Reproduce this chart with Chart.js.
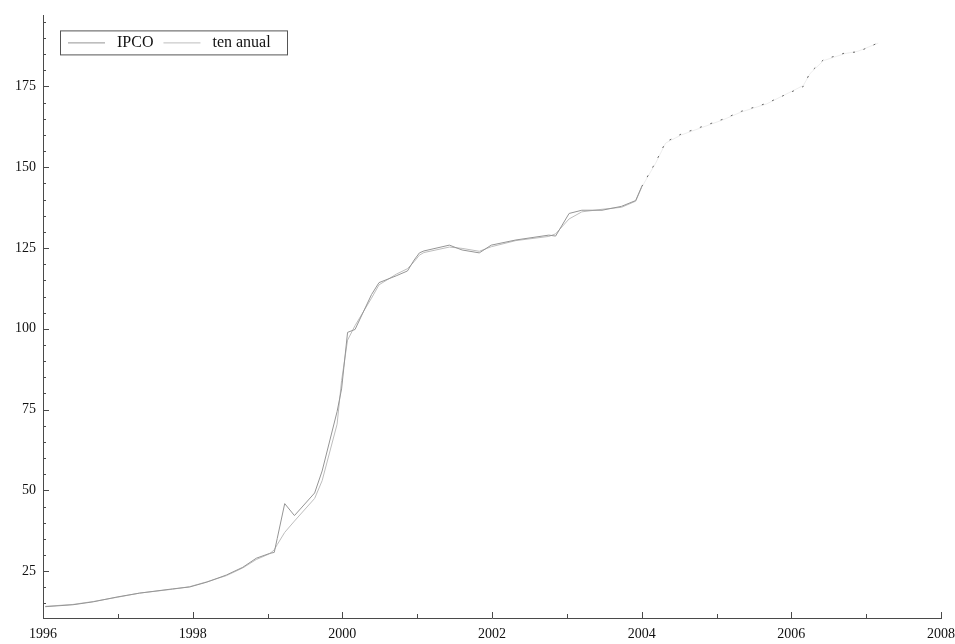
<!DOCTYPE html>
<html>
<head>
<meta charset="utf-8">
<script src="https://cdn.jsdelivr.net/npm/chart.js@4.4.1/dist/chart.umd.min.js"></script>
<style>
  html, body { margin: 0; padding: 0; background: #ffffff; }
  #wrap { width: 955px; height: 644px; position: relative; }
</style>
</head>
<body>
<div id="wrap"><canvas id="c" width="955" height="644"></canvas></div>
<script>
// ---- data ----
const dates = [
  1996.03, 1996.40, 1996.67, 1996.99, 1997.29, 1997.73, 1997.96, 1998.19, 1998.45, 1998.67,
  1998.85, 1999.03, 1999.09, 1999.13, 1999.23, 1999.36, 1999.63, 1999.73, 1999.93, 1999.99,
  2000.07, 2000.17, 2000.39, 2000.49, 2000.72, 2000.87, 2000.96, 2001.03, 2001.09, 2001.43,
  2001.60, 2001.83, 2001.99, 2002.32, 2002.76, 2002.85, 2003.03, 2003.20, 2003.47, 2003.73,
  2003.92, 2004.00, 2004.19, 2004.32, 2004.53, 2005.09, 2005.33, 2005.67, 2006.16, 2006.25,
  2006.43, 2006.72, 2006.89, 2007.16
];
const ipco = [
  14.0, 14.6, 15.5, 17.0, 18.2, 19.5, 20.1, 21.6, 23.8, 26.2,
  29.0, 30.5, 30.8, 35.1, 45.9, 42.2, 49.2, 56.0, 74.4, 81.4,
  98.9, 99.8, 110.6, 114.3, 116.4, 117.9, 121.3, 123.5, 124.1, 125.9,
  124.4, 123.5, 125.9, 127.5, 129.0, 128.7, 135.7, 136.7, 136.7, 137.9,
  139.7, 144.0, 151.7, 157.8, 160.3, 164.9, 167.3, 169.8, 175.0, 179.3,
  183.3, 185.4, 185.7, 188.5
];
const tenAnual = [
  14.1, 14.7, 15.6, 16.9, 18.2, 19.4, 20.2, 21.7, 23.6, 26.0,
  28.6, 30.4, 31.6, 33.2, 37.0, 40.5, 47.5, 53.0, 70.5, 84.0,
  96.5, 101.0, 109.5, 113.6, 116.9, 118.6, 120.8, 122.8, 123.6, 125.3,
  124.9, 124.0, 125.4, 127.3, 128.6, 129.4, 134.0, 136.2, 137.0, 137.6,
  139.5, 143.8, 151.4, 157.5, 160.0, 164.7, 167.1, 169.6, 175.3, 179.0,
  183.0, 185.2, 185.9, 188.4
];
const seriesNames = ['IPCO', 'ten anual'];
const xTickYears = [1996, 1998, 2000, 2002, 2004, 2006, 2008];
const yTickValues = [25, 50, 75, 100, 125, 150, 175];

// ---- styling ----
const FONT = '"Liberation Serif", "DejaVu Serif", serif';
const AXIS_COLOR = '#4a4a4a';
const TEXT_COLOR = '#111111';
const COLORS = ['#959595', '#bdbdbd'];

const toPoints = (vals) => dates.map((d, i) => ({ x: d, y: vals[i] }));

// inward tick marks drawn through the scales
const innerTicks = {
  id: 'innerTicks',
  afterDraw(chart) {
    const { ctx, scales } = chart;
    const xs = scales.x, ys = scales.y;
    ctx.save();
    ctx.strokeStyle = AXIS_COLOR;
    ctx.lineWidth = 1;
    ctx.beginPath();
    for (let yr = Math.ceil(xs.min); yr <= xs.max; yr++) {
      const px = Math.round(xs.getPixelForValue(yr)) + 0.5;
      const len = xTickYears.includes(yr) ? 6 : 4;
      ctx.moveTo(px, ys.bottom);
      ctx.lineTo(px, ys.bottom - len);
    }
    for (let v = 15; v <= ys.max; v += 5) {
      const py = Math.round(ys.getPixelForValue(v)) + 0.5;
      const len = yTickValues.includes(v) ? 6 : 3;
      ctx.moveTo(xs.left, py);
      ctx.lineTo(xs.left + len, py);
    }
    ctx.stroke();
    ctx.restore();
  }
};

// boxed legend inside the plot area
const boxLegend = {
  id: 'boxLegend',
  afterDraw(chart) {
    const { ctx, chartArea } = chart;
    const x0 = chartArea.left + 17, y0 = chartArea.top + 15;
    const w = 227, h = 24;
    ctx.save();
    ctx.fillStyle = '#ffffff';
    ctx.fillRect(x0, y0, w, h);
    ctx.strokeStyle = '#555555';
    ctx.lineWidth = 1;
    ctx.strokeRect(x0 + 0.5, y0 + 0.5, w, h);
    ctx.font = '16px ' + FONT;
    ctx.textBaseline = 'middle';
    ctx.fillStyle = TEXT_COLOR;
    let cx = x0 + 8;
    const cy = y0 + h / 2 + 0.5;
    chart.data.datasets.forEach((ds, i) => {
      ctx.strokeStyle = COLORS[i];
      ctx.beginPath();
      ctx.moveTo(cx, cy);
      ctx.lineTo(cx + 37, cy);
      ctx.stroke();
      cx += 49;
      ctx.fillText(ds.label, cx, cy);
      cx += ctx.measureText(ds.label).width + 10;
    });
    ctx.restore();
  }
};

const after2004 = (c) => c.p0.parsed.x >= 2004;

new Chart(document.getElementById('c'), {
  type: 'line',
  data: {
    datasets: [
      {
        label: seriesNames[0],
        data: toPoints(ipco),
        borderColor: COLORS[0],
        borderWidth: 1,
        pointRadius: 0,
        tension: 0,
        segment: {
          borderDash: (c) => after2004(c) ? [2, 9] : undefined,
          borderColor: (c) => after2004(c) ? '#666666' : undefined
        }
      },
      {
        label: seriesNames[1],
        data: toPoints(tenAnual),
        borderColor: COLORS[1],
        borderWidth: 1,
        pointRadius: 0,
        tension: 0,
        segment: {
          borderColor: (c) => after2004(c) ? 'rgba(200,200,200,0.3)' : undefined
        }
      }
    ]
  },
  options: {
    responsive: false,
    animation: false,
    events: [],
    layout: { padding: { top: 6, right: 0, bottom: 0, left: 0 } },
    plugins: {
      legend: { display: false },
      tooltip: { enabled: false }
    },
    scales: {
      x: {
        type: 'linear',
        min: 1996,
        max: 2008,
        afterBuildTicks: (s) => { s.ticks = xTickYears.map(v => ({ value: v })); },
        afterFit: (s) => { s.height = 26; s.paddingRight = 14; s.paddingLeft = 0; },
        grid: { display: true, drawOnChartArea: false, drawTicks: false },
        border: { display: true, color: AXIS_COLOR, width: 1 },
        ticks: {
          padding: 8,
          maxRotation: 0,
          autoSkip: false,
          color: TEXT_COLOR,
          font: { family: FONT, size: 14 },
          callback: (v) => String(v)
        }
      },
      y: {
        type: 'linear',
        min: 10.5,
        max: 197,
        afterBuildTicks: (s) => { s.ticks = yTickValues.map(v => ({ value: v })); },
        afterFit: (s) => { s.width = 43; },
        grid: { display: true, drawOnChartArea: false, drawTicks: false },
        border: { display: true, color: AXIS_COLOR, width: 1 },
        ticks: {
          padding: 7,
          color: TEXT_COLOR,
          font: { family: FONT, size: 14 },
          callback: (v) => String(v)
        }
      }
    }
  },
  plugins: [innerTicks, boxLegend]
});
</script>
</body>
</html>
